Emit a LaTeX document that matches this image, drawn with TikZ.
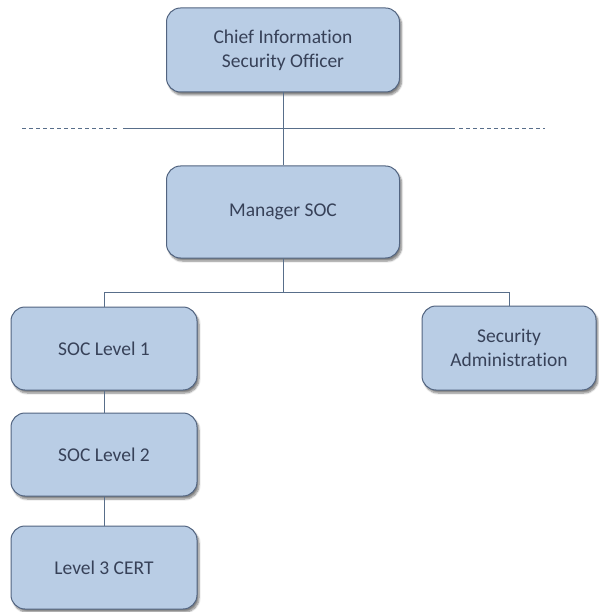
\documentclass[tikz,border=0pt]{standalone}
\usepackage{fontspec}
\setmainfont{Carlito}[Ligatures=NoCommon]
\usetikzlibrary{calc,shadows.blur}
\usepackage{xcolor}
\definecolor{boxfill}{RGB}{185,205,229}
\definecolor{boxedge}{RGB}{82,100,128}
\definecolor{boxtext}{RGB}{55,65,88}
\definecolor{linkline}{RGB}{88,110,138}

\begin{document}
\begin{tikzpicture}[x=1pt,y=-1pt,
    rolebox/.style={draw=boxedge,line width=1pt,fill=boxfill,rounded corners=14pt,
      text=boxtext,align=center,inner sep=0pt,
      font=\fontsize{19.5}{24}\selectfont,
      blur shadow={shadow xshift=2pt,shadow yshift=-3pt,shadow blur steps=6,shadow opacity=50}},
    link/.style={draw=linkline,line width=0.9pt}]

  % ── CANVAS ─────────────────────────────────────────────────────────────────
  \useasboundingbox (0,0) rectangle (598,612);

  % ── ROLES ──────────────────────────────────────────────────────────────────
  \node[rolebox,minimum width=233pt,minimum height=84pt] (ciso) at (283,50)
    {Chief Information\\Security Officer};
  \node[rolebox,minimum width=233pt,minimum height=92pt] (mgr) at (283,212)
    {Manager SOC};
  \node[rolebox,minimum width=186pt,minimum height=83pt] (lvlone) at (104,348.5)
    {SOC Level 1};
  \node[rolebox,minimum width=186pt,minimum height=83pt] (lvltwo) at (104,454.5)
    {SOC Level 2};
  \node[rolebox,minimum width=186pt,minimum height=83pt] (lvlthree) at (104,567.5)
    {Level 3 CERT};
  \node[rolebox,minimum width=174pt,minimum height=84pt] (secadm) at (509,348)
    {Security\\Administration};

  % ── BOUNDARY LINE ──────────────────────────────────────────────────────────
  % solid middle part, dashed at both ends
  \coordinate (bleft)  at (22,128);
  \coordinate (bsl)    at (123,128);
  \coordinate (bsr)    at (455,128);
  \coordinate (bright) at (545,128);
  \draw[link,dashed,dash pattern=on 4pt off 3pt] (bleft) -- ($(bsl)+(-4,0)$);
  \draw[link] (bsl) -- (bsr);
  \draw[link,dashed,dash pattern=on 4pt off 3pt] ($(bsr)+(4,0)$) -- (bright);

  % ── REPORTING LINES ────────────────────────────────────────────────────────
  \draw[link] (ciso) -- (mgr);
  \coordinate (fork) at ($(mgr.south)+(0,34)$);
  \draw[link] (mgr) -- (fork) -| (lvlone);
  \draw[link] (fork) -| (secadm);
  \draw[link] (lvlone) -- (lvltwo);
  \draw[link] (lvltwo) -- (lvlthree);

\end{tikzpicture}
\end{document}
